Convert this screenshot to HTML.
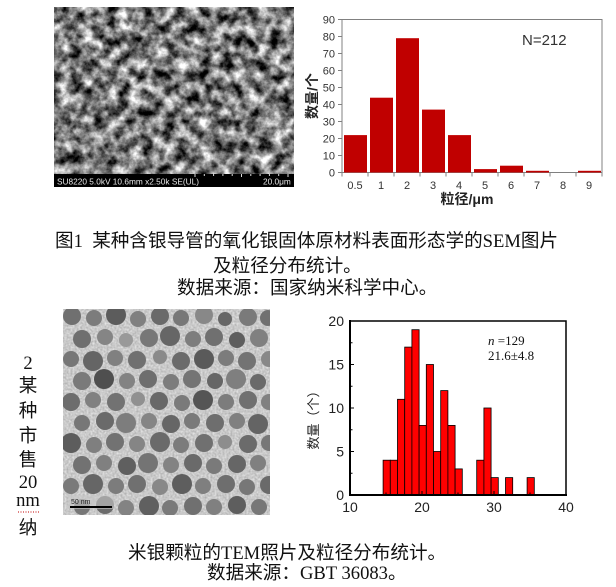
<!DOCTYPE html>
<html><head><meta charset="utf-8">
<style>
html,body{margin:0;padding:0;background:#fff;}
body{width:616px;height:587px;overflow:hidden;position:relative;}
svg{position:absolute;left:0;top:0;}
.cap{font-family:"Liberation Serif","Noto Sans CJK SC",serif;font-size:18.6px;fill:#111;}
.ax{font-family:"Liberation Sans",Arial,sans-serif;}
</style></head>
<body>
<svg width="616" height="587" viewBox="0 0 616 587" xmlns="http://www.w3.org/2000/svg">
<defs>
<filter id="sem" x="0" y="0" width="100%" height="100%" color-interpolation-filters="sRGB">
<feTurbulence type="fractalNoise" baseFrequency="0.085" numOctaves="4" seed="7"/>
<feColorMatrix type="matrix" values="1.8 0 0 0 -0.42  1.8 0 0 0 -0.42  1.8 0 0 0 -0.42  0 0 0 0 1"/>
</filter>
<filter id="tem" x="0" y="0" width="100%" height="100%" color-interpolation-filters="sRGB">
<feTurbulence type="fractalNoise" baseFrequency="0.5" numOctaves="2" seed="3"/>
<feColorMatrix type="matrix" values="0.3 0 0 0 0.64  0.3 0 0 0 0.64  0.3 0 0 0 0.64  0 0 0 0 1"/>
</filter>
<clipPath id="temclip"><rect x="0" y="0" width="207" height="206"/></clipPath>
</defs>

<!-- SEM image -->
<rect x="54" y="7" width="240" height="167" filter="url(#sem)"/>
<rect x="54" y="174" width="240" height="13" fill="#000"/>
<g stroke="#ddd" stroke-width="1">
<line x1="195" y1="174" x2="195" y2="177"/><line x1="204.3" y1="174" x2="204.3" y2="176"/>
<line x1="213.6" y1="174" x2="213.6" y2="176"/><line x1="222.9" y1="174" x2="222.9" y2="176"/>
<line x1="232.2" y1="174" x2="232.2" y2="176"/><line x1="241.5" y1="174" x2="241.5" y2="177"/>
<line x1="250.8" y1="174" x2="250.8" y2="176"/><line x1="260.1" y1="174" x2="260.1" y2="176"/>
<line x1="269.4" y1="174" x2="269.4" y2="176"/><line x1="278.7" y1="174" x2="278.7" y2="176"/>
<line x1="288" y1="174" x2="288" y2="177"/>
</g>
<text x="57" y="184.5" class="ax" font-size="8.3" fill="#e6e6e6">SU8220 5.0kV 10.6mm x2.50k SE(UL)</text>
<text x="263" y="184.5" class="ax" font-size="8.3" fill="#e6e6e6">20.0μm</text>

<!-- Chart 1 -->
<g class="ax">
<rect x="342" y="19.5" width="260" height="153" fill="none" stroke="#808080" stroke-width="1"/>
<g fill="#c00000">
<rect x="344" y="135.1" width="23" height="37.4"/>
<rect x="370" y="97.7" width="23" height="74.8"/>
<rect x="396" y="38.2" width="23" height="134.3"/>
<rect x="422" y="109.6" width="23" height="62.9"/>
<rect x="448" y="135.1" width="23" height="37.4"/>
<rect x="474" y="169.1" width="23" height="3.4"/>
<rect x="500" y="165.7" width="23" height="6.8"/>
<rect x="526" y="170.8" width="23" height="1.7"/>
<rect x="578" y="170.8" width="23" height="1.7"/>
</g>
<g stroke="#808080" stroke-width="1">
<line x1="338" y1="172.5" x2="342" y2="172.5"/><line x1="338" y1="155.5" x2="342" y2="155.5"/>
<line x1="338" y1="138.5" x2="342" y2="138.5"/><line x1="338" y1="121.5" x2="342" y2="121.5"/>
<line x1="338" y1="104.5" x2="342" y2="104.5"/><line x1="338" y1="87.5" x2="342" y2="87.5"/>
<line x1="338" y1="70.5" x2="342" y2="70.5"/><line x1="338" y1="53.5" x2="342" y2="53.5"/>
<line x1="338" y1="36.5" x2="342" y2="36.5"/><line x1="338" y1="19.5" x2="342" y2="19.5"/>
<line x1="342" y1="172.5" x2="342" y2="176.5"/><line x1="368" y1="172.5" x2="368" y2="176.5"/>
<line x1="394" y1="172.5" x2="394" y2="176.5"/><line x1="420" y1="172.5" x2="420" y2="176.5"/>
<line x1="446" y1="172.5" x2="446" y2="176.5"/><line x1="472" y1="172.5" x2="472" y2="176.5"/>
<line x1="498" y1="172.5" x2="498" y2="176.5"/><line x1="524" y1="172.5" x2="524" y2="176.5"/>
<line x1="550" y1="172.5" x2="550" y2="176.5"/><line x1="576" y1="172.5" x2="576" y2="176.5"/>
<line x1="602" y1="172.5" x2="602" y2="176.5"/>
</g>
<g font-size="11" fill="#333" text-anchor="end">
<text x="335" y="176.5">0</text><text x="335" y="159.5">10</text><text x="335" y="142.5">20</text>
<text x="335" y="125.5">30</text><text x="335" y="108.5">40</text><text x="335" y="91.5">50</text>
<text x="335" y="74.5">60</text><text x="335" y="57.5">70</text><text x="335" y="40.5">80</text>
<text x="335" y="23.5">90</text>
</g>
<g font-size="11" fill="#333" text-anchor="middle">
<text x="355" y="189">0.5</text><text x="381" y="189">1</text><text x="407" y="189">2</text>
<text x="433" y="189">3</text><text x="459" y="189">4</text><text x="485" y="189">5</text>
<text x="511" y="189">6</text><text x="537" y="189">7</text><text x="563" y="189">8</text>
<text x="589" y="189">9</text>
</g>
<text x="522" y="45" font-size="15" fill="#333">N=212</text>
<text x="467" y="204" font-size="14" font-weight="bold" fill="#222" text-anchor="middle" font-family="'Liberation Sans','Noto Sans CJK SC',sans-serif">粒径/μm</text>
<text transform="translate(317,96) rotate(-90)" font-size="14" font-weight="bold" fill="#222" text-anchor="middle" font-family="'Liberation Sans','Noto Sans CJK SC',sans-serif">数量/个</text>
</g>

<!-- Caption 1 -->
<text class="cap" x="55" y="247" xml:space="preserve">图1  某种含银导管的氧化银固体原材料表面形态学的SEM图片</text>
<text class="cap" x="213" y="272">及粒径分布统计。</text>
<text class="cap" x="177" y="294">数据来源：国家纳米科学中心。</text>

<!-- Left vertical text -->
<g class="cap" text-anchor="middle">
<text x="28" y="369">2</text>
<text x="28" y="392">某</text>
<text x="28" y="417">种</text>
<text x="28" y="442">市</text>
<text x="28" y="466">售</text>
<text x="28" y="488">20</text>
<text x="28" y="506">nm</text>
<text x="28" y="534">纳</text>
</g>
<line x1="18" y1="512" x2="39" y2="512" stroke="#c00000" stroke-width="1" stroke-dasharray="1,1.5"/>

<!-- TEM image -->
<g transform="translate(63,309)" clip-path="url(#temclip)">
<rect x="0" y="0" width="207" height="206" filter="url(#tem)"/>
<circle cx="9" cy="7" r="9" fill="#707070"/><circle cx="31" cy="9" r="8" fill="#7c7c7c"/><circle cx="53" cy="6" r="10" fill="#5c5c5c"/><circle cx="75" cy="10" r="8" fill="#808080"/><circle cx="97" cy="7" r="9" fill="#6a6a6a"/><circle cx="118" cy="9" r="8" fill="#777"/><circle cx="141" cy="6" r="9" fill="#888"/><circle cx="162" cy="10" r="7" fill="#666"/><circle cx="185" cy="8" r="9" fill="#7a7a7a"/><circle cx="205" cy="9" r="8" fill="#707070"/>
<circle cx="19" cy="30" r="9" fill="#6f6f6f"/><circle cx="42" cy="28" r="8" fill="#858585"/><circle cx="63" cy="31" r="7" fill="#999"/><circle cx="86" cy="29" r="9" fill="#777"/><circle cx="107" cy="27" r="10" fill="#666"/><circle cx="130" cy="30" r="8" fill="#7d7d7d"/><circle cx="151" cy="28" r="9" fill="#707070"/><circle cx="174" cy="31" r="8" fill="#5e5e5e"/><circle cx="196" cy="29" r="9" fill="#808080"/>
<circle cx="8" cy="50" r="8" fill="#777"/><circle cx="30" cy="52" r="10" fill="#656565"/><circle cx="52" cy="49" r="8" fill="#808080"/><circle cx="74" cy="51" r="9" fill="#707070"/><circle cx="97" cy="48" r="7" fill="#8a8a8a"/><circle cx="118" cy="52" r="9" fill="#6b6b6b"/><circle cx="141" cy="50" r="10" fill="#5a5a5a"/><circle cx="163" cy="49" r="8" fill="#7c7c7c"/><circle cx="184" cy="52" r="9" fill="#737373"/><circle cx="206" cy="50" r="8" fill="#888"/>
<circle cx="19" cy="72" r="9" fill="#7a7a7a"/><circle cx="41" cy="70" r="10" fill="#4f4f4f"/><circle cx="64" cy="72" r="8" fill="#838383"/><circle cx="85" cy="70" r="9" fill="#6e6e6e"/><circle cx="108" cy="73" r="8" fill="#7c7c7c"/><circle cx="129" cy="70" r="9" fill="#747474"/><circle cx="152" cy="72" r="8" fill="#666"/><circle cx="173" cy="70" r="10" fill="#7f7f7f"/><circle cx="195" cy="73" r="8" fill="#6a6a6a"/>
<circle cx="8" cy="93" r="9" fill="#6d6d6d"/><circle cx="30" cy="91" r="8" fill="#808080"/><circle cx="53" cy="93" r="9" fill="#727272"/><circle cx="75" cy="90" r="7" fill="#909090"/><circle cx="96" cy="92" r="9" fill="#686868"/><circle cx="119" cy="94" r="8" fill="#7a7a7a"/><circle cx="140" cy="91" r="10" fill="#555"/><circle cx="163" cy="93" r="8" fill="#7c7c7c"/><circle cx="185" cy="91" r="9" fill="#707070"/><circle cx="206" cy="93" r="8" fill="#808080"/>
<circle cx="19" cy="114" r="8" fill="#777"/><circle cx="42" cy="112" r="9" fill="#6a6a6a"/><circle cx="63" cy="114" r="10" fill="#7d7d7d"/><circle cx="86" cy="112" r="8" fill="#858585"/><circle cx="108" cy="115" r="9" fill="#666"/><circle cx="129" cy="112" r="8" fill="#7a7a7a"/><circle cx="152" cy="114" r="9" fill="#6e6e6e"/><circle cx="174" cy="112" r="8" fill="#808080"/><circle cx="195" cy="115" r="10" fill="#646464"/>
<circle cx="8" cy="134" r="10" fill="#5d5d5d"/><circle cx="31" cy="136" r="8" fill="#7f7f7f"/><circle cx="52" cy="133" r="9" fill="#727272"/><circle cx="74" cy="135" r="8" fill="#858585"/><circle cx="97" cy="133" r="10" fill="#6a6a6a"/><circle cx="118" cy="136" r="8" fill="#7c7c7c"/><circle cx="141" cy="134" r="9" fill="#707070"/><circle cx="162" cy="133" r="7" fill="#8d8d8d"/><circle cx="185" cy="135" r="9" fill="#6b6b6b"/><circle cx="206" cy="134" r="8" fill="#777"/>
<circle cx="19" cy="156" r="9" fill="#727272"/><circle cx="41" cy="154" r="8" fill="#808080"/><circle cx="64" cy="157" r="9" fill="#5f5f5f"/><circle cx="85" cy="154" r="10" fill="#747474"/><circle cx="108" cy="156" r="8" fill="#838383"/><circle cx="130" cy="154" r="9" fill="#6a6a6a"/><circle cx="151" cy="157" r="8" fill="#7a7a7a"/><circle cx="174" cy="155" r="9" fill="#666"/><circle cx="195" cy="154" r="8" fill="#808080"/>
<circle cx="8" cy="177" r="8" fill="#7a7a7a"/><circle cx="30" cy="175" r="10" fill="#666"/><circle cx="53" cy="177" r="8" fill="#7c7c7c"/><circle cx="74" cy="175" r="9" fill="#707070"/><circle cx="97" cy="178" r="8" fill="#888"/><circle cx="119" cy="175" r="10" fill="#5e5e5e"/><circle cx="140" cy="177" r="8" fill="#7f7f7f"/><circle cx="163" cy="175" r="9" fill="#6e6e6e"/><circle cx="184" cy="178" r="8" fill="#777"/><circle cx="206" cy="176" r="9" fill="#6a6a6a"/>
<circle cx="19" cy="198" r="8" fill="#777"/><circle cx="42" cy="196" r="9" fill="#6c6c6c"/><circle cx="63" cy="199" r="8" fill="#838383"/><circle cx="86" cy="197" r="10" fill="#606060"/><circle cx="107" cy="199" r="8" fill="#7a7a7a"/><circle cx="130" cy="197" r="9" fill="#707070"/><circle cx="151" cy="198" r="8" fill="#808080"/><circle cx="174" cy="196" r="9" fill="#5e5e5e"/><circle cx="196" cy="198" r="8" fill="#777"/>
<rect x="5" y="186" width="46" height="14" fill="#c8c8c8" opacity="0.6"/>
<line x1="7" y1="198" x2="49" y2="198" stroke="#000" stroke-width="2"/>
<text x="8" y="195" class="ax" font-size="7" fill="#222">50 nm</text>
</g>

<!-- Chart 2 -->
<g class="ax">
<g fill="#ff0000" stroke="#000" stroke-width="0.8">
<rect x="383.1" y="460.2" width="7.2" height="34.8"/>
<rect x="390.3" y="460.2" width="7.2" height="34.8"/>
<rect x="397.5" y="399.3" width="7.2" height="95.7"/>
<rect x="404.7" y="347.1" width="7.2" height="147.9"/>
<rect x="411.9" y="329.7" width="7.2" height="165.3"/>
<rect x="419.1" y="425.4" width="7.2" height="69.6"/>
<rect x="426.3" y="364.5" width="7.2" height="130.5"/>
<rect x="433.5" y="451.5" width="7.2" height="43.5"/>
<rect x="440.7" y="390.6" width="7.2" height="104.4"/>
<rect x="447.9" y="425.4" width="7.2" height="69.6"/>
<rect x="455.1" y="468.9" width="7.2" height="26.1"/>
<rect x="476.7" y="460.2" width="7.2" height="34.8"/>
<rect x="483.9" y="408" width="7.2" height="87"/>
<rect x="491.1" y="477.6" width="7.2" height="17.4"/>
<rect x="505.5" y="477.6" width="7.2" height="17.4"/>
<rect x="527.1" y="477.6" width="7.2" height="17.4"/>
</g>
<rect x="350" y="321" width="216" height="174" fill="none" stroke="#000" stroke-width="1.5"/>
<line x1="350" y1="320" x2="350" y2="496" stroke="#000" stroke-width="2"/>
<line x1="349" y1="495" x2="567" y2="495" stroke="#000" stroke-width="2"/>
<g stroke="#000" stroke-width="1">
<line x1="350" y1="451.5" x2="354" y2="451.5"/><line x1="350" y1="408" x2="354" y2="408"/>
<line x1="350" y1="364.5" x2="354" y2="364.5"/>
<line x1="350" y1="473.25" x2="352.5" y2="473.25"/><line x1="350" y1="429.75" x2="352.5" y2="429.75"/>
<line x1="350" y1="386.25" x2="352.5" y2="386.25"/><line x1="350" y1="342.75" x2="352.5" y2="342.75"/>
<line x1="422" y1="495" x2="422" y2="491"/><line x1="494" y1="495" x2="494" y2="491"/>
<line x1="386" y1="495" x2="386" y2="492.5"/><line x1="458" y1="495" x2="458" y2="492.5"/>
<line x1="530" y1="495" x2="530" y2="492.5"/>
</g>
<g font-size="14" fill="#222" text-anchor="end">
<text x="344" y="500">0</text><text x="344" y="456.5">5</text><text x="344" y="413">10</text>
<text x="344" y="369.5">15</text><text x="344" y="326">20</text>
</g>
<g font-size="14" fill="#222" text-anchor="middle">
<text x="350" y="512">10</text><text x="422" y="512">20</text><text x="494" y="512">30</text><text x="566" y="512">40</text>
</g>
<text transform="translate(318,417) rotate(-90)" font-size="13" fill="#222" text-anchor="middle" font-family="'Liberation Sans','Noto Sans CJK SC',sans-serif">数量（个）</text>
<text x="488" y="345" font-size="13" fill="#111" font-family="'Liberation Serif',serif"><tspan font-style="italic">n</tspan> =129</text>
<text x="488" y="360" font-size="13" fill="#111" font-family="'Liberation Serif',serif">21.6±4.8</text>
</g>

<!-- Caption 2 -->
<text class="cap" x="128" y="559">米银颗粒的TEM照片及粒径分布统计。</text>
<text class="cap" x="207" y="579">数据来源：GBT 36083。</text>
</svg>
</body></html>
